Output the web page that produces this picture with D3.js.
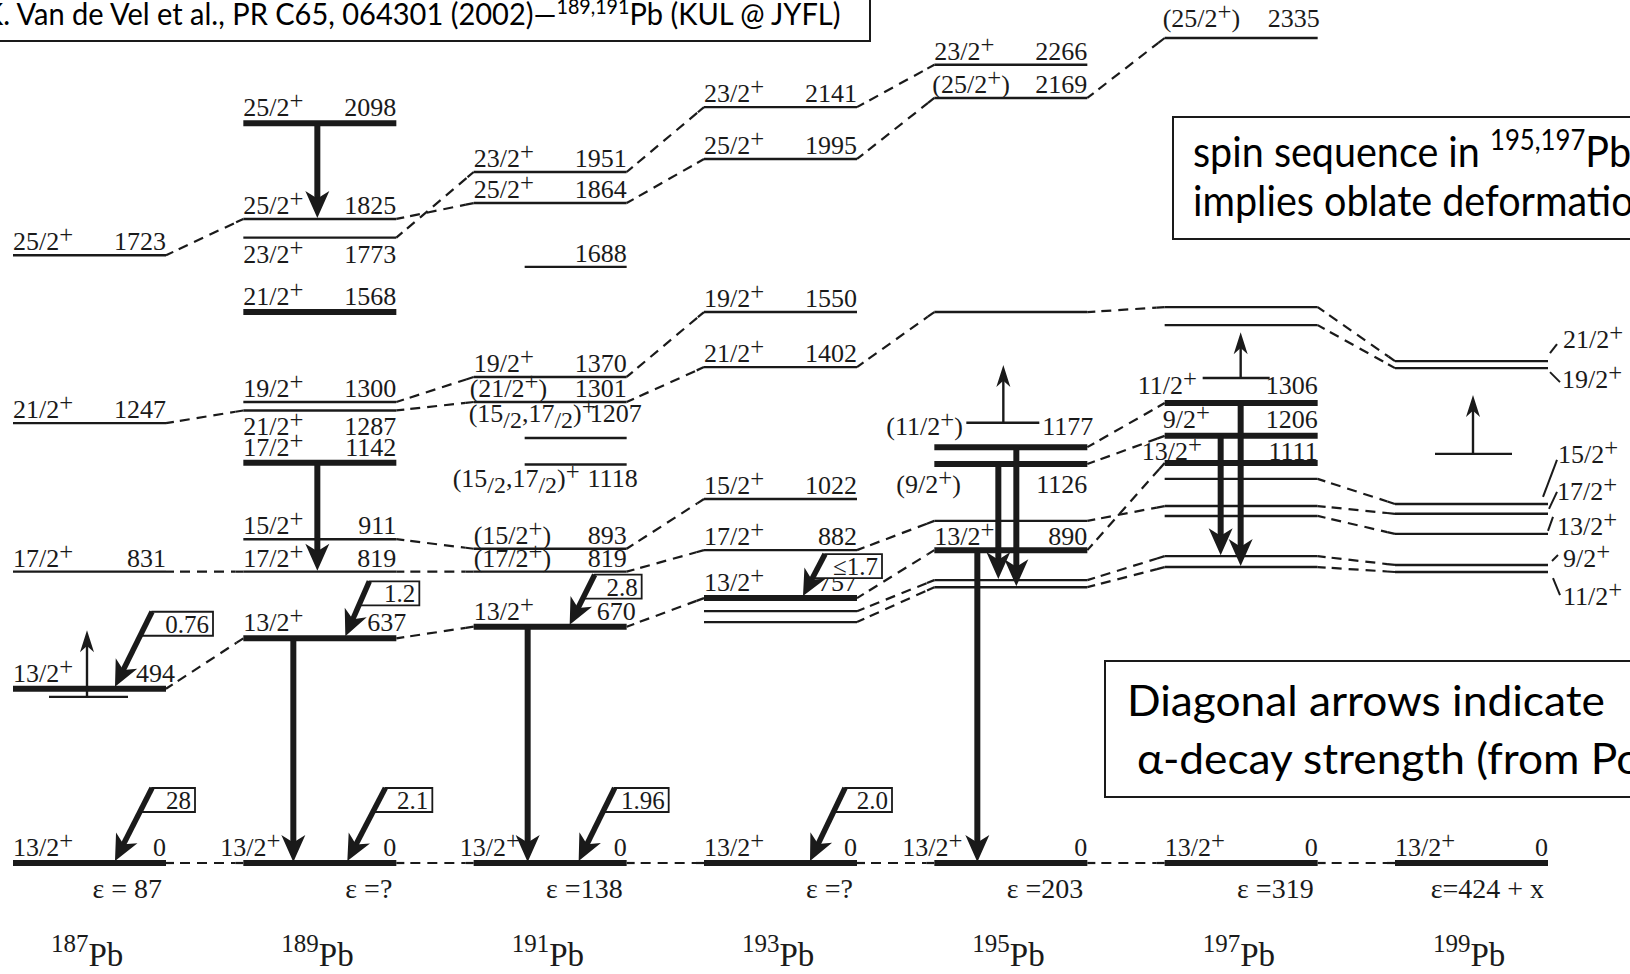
<!DOCTYPE html>
<html><head><meta charset="utf-8">
<script src="https://cdn.jsdelivr.net/npm/d3@7"></script>
<style>body{margin:0;background:#fff;overflow:hidden}svg{display:block}</style>
</head><body>
<svg id="c" width="1630" height="974"></svg>
<script>
// ---------------- data ----------------
const nuclei = ["187","189","191","193","195","197","199"];
const epsilon = ["ε = 87","ε =?","ε =138","ε =?","ε =203","ε =319","ε=424 + x"];
// [energy (as drawn, keV), spin, energy label, kind]
const levels187 = [[0,"13/2+","0","bold"],[494,"13/2+","494","bold"],[471,"","","iso"],
  [826,"17/2+","831","thin"],[1247,"21/2+","1247","thin"],[1723,"25/2+","1723","thin"]];
const levels189 = [[0,"13/2+","0","bold"],[637,"13/2+","637","bold"],[826,"17/2+","819","thin"],
  [918,"15/2+","911","thin"],[1135,"17/2+","1142","bold"],[1283,"21/2+","1287","thin"],
  [1307,"19/2+","1300","thin"],[1562,"21/2+","1568","bold"],[1773,"23/2+","1773","thin"],
  [1826,"25/2+","1825","thin"],[2097,"25/2+","2098","bold"]];
const levels191 = [[0,"13/2+","0","bold"],[670,"13/2+","670","bold"],[826,"(17/2+)","819","thin"],
  [891,"(15/2+)","893","thin"],[1130,"(15{/2},17{/2})+","1118","short"],[1205,"(15{/2},17{/2})+","1207","short"],
  [1307,"(21/2+)","1301","thin"],[1378,"19/2+","1370","thin"],[1690,"","1688","short"],
  [1871,"25/2+","1864","thin"],[1959,"23/2+","1951","thin"]];
const levels193 = [[0,"13/2+","0","bold"],[683,"","","thin"],[714,"","","thin"],[751,"13/2+","757","bold"],
  [887,"17/2+","882","thin"],[1032,"15/2+","1022","thin"],[1406,"21/2+","1402","thin"],
  [1562,"19/2+","1550","thin"],[1996,"25/2+","1995","thin"],[2143,"23/2+","2141","thin"]];
const levels195 = [[0,"13/2+","0","bold"],[782,"","","thin"],[802,"","","thin"],[887,"13/2+","890","bold"],
  [970,"","","thin"],[1131,"(9/2+)","1126","bold"],[1179,"(11/2+)","1177","bold"],[1248,"","","iso"],
  [1562,"","","thin"],[2169,"(25/2+)","2169","thin"],[2263,"23/2+","2266","thin"]];
const levels197 = [[0,"13/2+","0","bold"],[839,"","","thin"],[870,"","","thin"],[984,"","","thin"],
  [1012,"","","thin"],[1089,"","","thin"],[1134,"13/2+","1111","bold"],[1211,"9/2+","1206","bold"],
  [1304,"11/2+","1306","bold"],[1375,"","","iso"],[1525,"","","thin"],[1576,"","","thin"],
  [2339,"(25/2+)","2335","thin"]];
const levels199 = [[0,"13/2+","0","bold"],[825,"11/2+","","thin"],[845,"9/2+","","thin"],
  [933,"13/2+","","thin"],[990,"17/2+","","thin"],[1018,"15/2+","","thin"],[1160,"","","iso"],
  [1403,"19/2+","","thin"],[1423,"21/2+","","thin"]];
// dashed correspondences: [nucleus index, energy here, energy in next nucleus]
const links = [
 [0,1723,1826],[0,1247,1283],[0,826,826],[0,494,637],[0,0,0],
 [1,1826,1871],[1,1773,1959],[1,1307,1378],[1,1283,1307],[1,918,891],[1,826,826],[1,637,670],[1,0,0],
 [2,1959,2143],[2,1871,1996],[2,1378,1562],[2,1307,1406],[2,891,1032],[2,826,887],[2,670,751],[2,0,0],
 [3,2143,2263],[3,1996,2169],[3,1406,1562],[3,887,970],[3,751,887],[3,714,802],[3,683,782],[3,0,0],
 [4,2169,2339],[4,1562,1576],[4,1179,1304],[4,1131,1211],[4,887,1134],[4,970,1012],[4,802,870],[4,782,839],[4,0,0],
 [5,1576,1423],[5,1525,1403],[5,1089,1018],[5,1012,990],[5,984,933],[5,870,845],[5,839,825],[5,0,0]];
// gamma transitions: [nucleus, from, to]
const gammas = [[1,2097,1826],[1,1135,826],[1,637,0],[2,670,0],[4,887,0],[4,1179,782],[4,1131,802],[5,1304,839],[5,1211,870]];
// isomer feeding (upward arrows): [nucleus, from, to]
const upArrows = [[0,471,660],[4,1248,1412],[5,1375,1505],[6,1160,1327]];
// alpha-decay strength: [nucleus, level energy, value]
const alphas = [[0,0,"28"],[0,494,"0.76"],[1,637,"1.2"],[1,0,"2.1"],[2,670,"2.8"],[2,0,"1.96"],[3,751,"≤1.7"],[3,0,"2.0"]];

// ---------------- layout ----------------
const svg = d3.select("#c");
const W = 153;
const x = d3.scalePoint().domain(d3.range(nuclei.length)).range([13, 1395]);
const y = d3.scaleLinear().domain([0, 2339]).range([863, 38]);
const INK = "#1a1a1a";
const SERIF = "'Liberation Serif','Times New Roman',serif";
const SANS = "Lato,'Open Sans',sans-serif";

const allLevels = [levels187,levels189,levels191,levels193,levels195,levels197,levels199]
  .flatMap((arr,i)=>arr.map(d=>({n:i,e:d[0],spin:d[1],lab:d[2],kind:d[3]})));

const isoSpan = {0:[36,115],4:[32,105],5:[38,105],6:[40,117]};
function span(d){
  const L = x(d.n);
  if(d.kind==="short") return [L+51, L+W];
  if(d.kind==="iso") return [L+isoSpan[d.n][0], L+isoSpan[d.n][1]];
  return [L, L+W];
}

// connectors
const gConn = svg.append("g").attr("stroke",INK).attr("fill","none");
links.forEach(([i,e1,e2])=>{
  const x1 = x(i)+W, y1 = y(e1), x2 = x(i+1), y2 = y(e2);
  const len = Math.hypot(x2-x1,y2-y1), ux=(x2-x1)/len, uy=(y2-y1)/len, s=8;
  gConn.append("line").attr("x1",x1).attr("y1",y1).attr("x2",x1+ux*s).attr("y2",y1+uy*s).attr("stroke-width",2.2);
  gConn.append("line").attr("x1",x2-ux*s).attr("y1",y2-uy*s).attr("x2",x2).attr("y2",y2).attr("stroke-width",2.2);
  gConn.append("line").attr("x1",x1+ux*(s+6)).attr("y1",y1+uy*(s+6)).attr("x2",x2-ux*s).attr("y2",y2-uy*s)
    .attr("stroke-width",2.2).attr("stroke-dasharray","10,7");
});

// levels
svg.append("g").selectAll("line").data(allLevels).join("line")
  .attr("x1",d=>span(d)[0]).attr("x2",d=>span(d)[1])
  .attr("y1",d=>y(d.e)).attr("y2",d=>y(d.e))
  .attr("stroke",INK).attr("stroke-width",d=>d.kind==="bold"?6:2.4);

// arrow helper (filled head)
function arrow(g,x1,y1,x2,y2,w,hl,hw){
  const len=Math.hypot(x2-x1,y2-y1), ux=(x2-x1)/len, uy=(y2-y1)/len;
  const bx=x2-ux*hl, by=y2-uy*hl;
  g.append("line").attr("x1",x1).attr("y1",y1).attr("x2",x2-ux*hl*0.6).attr("y2",y2-uy*hl*0.6)
    .attr("stroke",INK).attr("stroke-width",w);
  g.append("path").attr("d",`M${x2},${y2}L${bx-uy*hw},${by+ux*hw}L${x2-ux*hl*0.72},${y2-uy*hl*0.72}L${bx+uy*hw},${by-ux*hw}Z`)
    .attr("fill",INK);
}
const gammaX = {"1:2097":74,"1:1135":74,"1:637":50,"2:670":54,"4:887":43,"4:1179":82,"4:1131":64,"5:1304":76,"5:1211":56};
const gA = svg.append("g");
gammas.forEach(([n,a,b])=>{
  const gx = x(n)+gammaX[n+":"+a];
  arrow(gA,gx,y(a),gx,y(b)-1,6,27,12);
});
const upX = {0:74,4:69,5:76,6:78};
upArrows.forEach(([n,a,b])=>{
  const gx = x(n)+upX[n];
  arrow(gA,gx,y(a),gx,y(b),2.4,22,7);
});

// rich text: '+' raised, {..} lowered
function rich(sel,str,size){
  const parts=[]; let i=0;
  while(i<str.length){
    const c=str[i];
    if(c==="+"){parts.push({t:"+",s:-7,f:size*0.95});i++;}
    else if(c==="{"){const j=str.indexOf("}",i);parts.push({t:str.slice(i+1,j),s:6,f:size*0.92});i=j+1;}
    else{let j=i;while(j<str.length&&str[j]!=="+"&&str[j]!=="{")j++;parts.push({t:str.slice(i,j),s:0,f:size});i=j;}
  }
  let cur=0;
  parts.forEach(p=>{sel.append("tspan").attr("dy",p.s-cur).attr("font-size",p.f).text(p.t);cur=p.s;});
  return sel;
}

// level labels
const labelTweak = {
 "0:494":{ex:9},"1:0":{sx:-23},"1:637":{ex:10},"1:1283":{dy:25},"1:1773":{dy:25},
 "2:0":{sx:-14},"2:670":{ex:9},"2:1130":{sx:-21,ex:11,dy:23},"2:1205":{sx:-5,ex:15,dy:-16},"2:1307":{sx:-4},
 "4:0":{sx:-32},"4:1179":{sx:-48,ex:6,dy:-12},"4:1131":{sx:-38,dy:29},"4:887":{dy:-5},"4:2169":{sx:-2},
 "5:1304":{sx:-27,dy:-9},"5:1211":{sx:-2,dy:-8},"5:1134":{sx:-23,dy:-3},"5:2339":{sx:-2,ex:2,dy:-11}
};
const gL = svg.append("g").attr("font-family",SERIF).attr("fill",INK);
allLevels.filter(d=>d.n<6).forEach(d=>{
  const t = labelTweak[d.n+":"+d.e]||{};
  const base = y(d.e) + (t.dy!==undefined ? t.dy : (d.kind==="bold"?-7:-5));
  if(d.spin){
    const sx = (d.kind==="short"? x(d.n) : span(d)[0]) + (t.sx||0);
    rich(gL.append("text").attr("x",sx).attr("y",base),d.spin,26);
  }
  if(d.lab){
    gL.append("text").attr("x",x(d.n)+W+(t.ex||0)).attr("y",base).attr("text-anchor","end")
      .attr("font-size",26).text(d.lab);
  }
});
// 199 side labels with leader ticks: [dxText,dyText,x1,y1,x2,y2] relative to (right end, level y)
const side199 = {"21/2+":[15,-13,2,-8,9,-17],"19/2+":[14,20,2,4,12,14],"15/2+":[10,-41,-5,-7,9,-44],
 "17/2+":[9,-14,1,-5,9,-22],"13/2+":[9,1,0,-3,5,-17],"9/2+":[15,2,4,-4,10,-10],"11/2+":[15,33,5,6,12,23]};
allLevels.filter(d=>d.n===6).forEach(d=>{
  if(d.e===0){
    rich(gL.append("text").attr("x",x(6)).attr("y",y(0)-7),d.spin,26);
    gL.append("text").attr("x",x(6)+W).attr("y",y(0)-7).attr("text-anchor","end").attr("font-size",26).text(d.lab);
    return;
  }
  const s = side199[d.spin]; if(!s) return;
  const R = x(6)+W, Y = y(d.e);
  gL.append("line").attr("x1",R+s[2]).attr("y1",Y+s[3]).attr("x2",R+s[4]).attr("y2",Y+s[5])
    .attr("stroke",INK).attr("stroke-width",2);
  rich(gL.append("text").attr("x",R+s[0]).attr("y",Y+s[1]),d.spin,26);
});

// alpha decay arrows with boxed strengths
const alphaGeom = {"0:0":[102,37,73,43],"0:494":[102,37,75,61],"1:637":[102,24,55,50],"1:0":[104,38,73,47],
 "2:670":[96,25,50,47],"2:0":[105,36,73,54],"3:751":[99,22,42,57],"3:0":[106,35,73,47]};
const gAl = svg.append("g");
alphas.forEach(([n,e,v])=>{
  const [tx,dx,dy,bw] = alphaGeom[n+":"+e];
  const X2 = x(n)+tx, Y2 = y(e)-2, X1 = X2+dx, Y1 = Y2-dy, bh = 24;
  gAl.append("path").attr("d",`M${X1},${Y1}H${X1+bw}V${Y1+bh}H${X1-bh*dx/dy}Z`)
    .attr("fill","#fff").attr("stroke",INK).attr("stroke-width",1.8);
  gAl.append("text").attr("x",X1+bw-4).attr("y",Y1+bh-3).attr("text-anchor","end")
    .attr("font-family",SERIF).attr("font-size",25).attr("fill",INK).text(v);
  arrow(gAl,X1,Y1,X2,Y2,5.5,26,12);
});

// epsilon and nucleus labels
const gB = svg.append("g").attr("font-family",SERIF).attr("fill",INK);
nuclei.forEach((m,i)=>{
  gB.append("text").attr("x",x(i)+W-4).attr("y",898).attr("text-anchor","end").attr("font-size",28).text(epsilon[i]);
  const t = gB.append("text").attr("x",x(i)+38).attr("y",952);
  t.append("tspan").attr("font-size",25).text(m);
  t.append("tspan").attr("font-size",33).attr("dy",14).text("Pb");
});

// ---------------- text boxes ----------------
function measure(str,size){
  const t=svg.append("text").attr("font-family",SANS).attr("font-size",size).text(str);
  const w=t.node().getComputedTextLength(); t.remove(); return w;
}
const gT = svg.append("g").attr("font-family",SANS).attr("fill","#000");
svg.append("rect").attr("x",-3).attr("y",-3).attr("width",873).attr("height",44)
  .attr("fill","none").attr("stroke",INK).attr("stroke-width",2);
{
  const g = gT.append("g");
  const t = g.append("text").attr("font-size",31);
  t.append("tspan").text("K. Van de Vel et al., PR C65, 064301 (2002)—");
  t.append("tspan").attr("font-size",21).attr("dy",-11).text("189,191");
  t.append("tspan").attr("dy",11).text("Pb (KUL @ JYFL)");
  const w = t.node().getBBox().width;
  g.attr("transform",`translate(-16,25) scale(${857/w},1)`);
}
svg.append("rect").attr("x",1173).attr("y",117).attr("width",500).attr("height",122)
  .attr("fill","none").attr("stroke",INK).attr("stroke-width",2);
{
  const sx = 287/measure("spin sequence in",43);
  const g1 = gT.append("g").attr("transform",`translate(1193,167) scale(${sx},1)`);
  const t = g1.append("text").attr("font-size",43);
  t.append("tspan").text("spin sequence in ");
  t.append("tspan").attr("font-size",28).attr("dy",-17).text("195,197");
  t.append("tspan").attr("dy",17).text("Pb");
  gT.append("g").attr("transform",`translate(1193,216) scale(${sx},1)`)
    .append("text").attr("font-size",43).text("implies oblate deformation");
}
svg.append("rect").attr("x",1105).attr("y",661).attr("width",600).attr("height",136)
  .attr("fill","none").attr("stroke",INK).attr("stroke-width",2);
{
  const sx = 478/measure("Diagonal arrows indicate",42);
  gT.append("g").attr("transform",`translate(1127,716) scale(${sx},1)`)
    .append("text").attr("font-size",42).text("Diagonal arrows indicate");
  gT.append("g").attr("transform",`translate(1137,774) scale(${sx},1)`)
    .append("text").attr("font-size",42).text("α-decay strength (from Po)");
}
</script>
</body></html>
